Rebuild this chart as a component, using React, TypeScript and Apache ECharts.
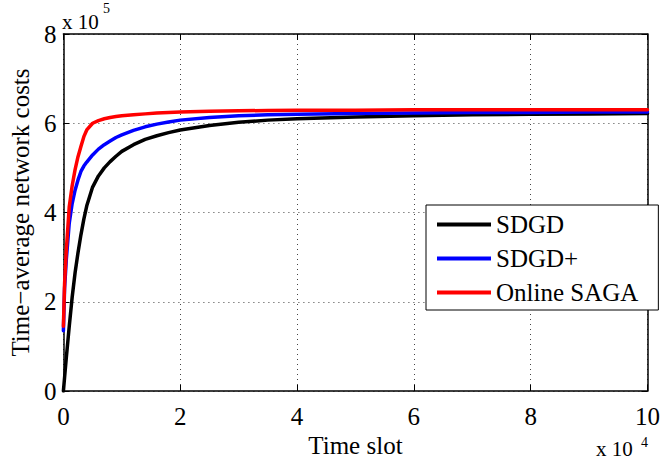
import React, { useEffect, useRef } from "react";
import * as echarts from "echarts";

const xValues = [0, 0.02, 0.05, 0.1, 0.15, 0.2, 0.25, 0.3, 0.35, 0.4, 0.5, 0.6, 0.7, 0.8, 0.9, 1.0, 1.2, 1.4, 1.6, 1.8, 2, 2.5, 3, 3.5, 4, 5, 6, 7, 8, 9, 10];
const sdgd = [0, 0.3, 0.75, 1.45, 2.1, 2.65, 3.1, 3.5, 3.85, 4.15, 4.57, 4.82, 5.0, 5.14, 5.26, 5.37, 5.52, 5.64, 5.72, 5.79, 5.85, 5.95, 6.02, 6.07, 6.1, 6.14, 6.17, 6.19, 6.2, 6.21, 6.22];
const sdgdPlus = [1.35, 2.3, 2.95, 3.76, 4.2, 4.5, 4.73, 4.92, 5.04, 5.13, 5.29, 5.42, 5.52, 5.6, 5.68, 5.74, 5.84, 5.92, 5.98, 6.03, 6.07, 6.13, 6.17, 6.19, 6.2, 6.22, 6.23, 6.24, 6.24, 6.25, 6.25];
const onlineSaga = [1.45, 2.4, 3.16, 4.13, 4.6, 4.96, 5.25, 5.48, 5.7, 5.85, 6.0, 6.06, 6.1, 6.13, 6.15, 6.17, 6.19, 6.21, 6.23, 6.24, 6.25, 6.27, 6.28, 6.285, 6.29, 6.29, 6.3, 6.3, 6.3, 6.3, 6.3];
const seriesNames = ["SDGD", "SDGD+", "Online SAGA"];
const seriesColors = ["#000000", "#0000ff", "#ff0000"];
const xTicks = { min: 0, max: 10, interval: 2 };
const yTicks = { min: 0, max: 8, interval: 2 };

const FONT = "Times New Roman, Liberation Serif, serif";

export default function App() {
  const ref = useRef<HTMLDivElement>(null);
  useEffect(() => {
    if (!ref.current) return;
    const chart = echarts.init(ref.current, null, { renderer: "svg" });
    const allData = [sdgd, sdgdPlus, onlineSaga];
    const axisBase = {
      type: "value" as const,
      axisLine: { show: true, onZero: false, lineStyle: { color: "#000", width: 1.5 } },
      axisTick: { show: true, inside: true, length: 6, lineStyle: { color: "#000", width: 1 } },
    };
    chart.setOption({
      animation: false,
      backgroundColor: "#fff",
      textStyle: { fontFamily: FONT },
      grid: { left: 62, right: 13, top: 34, bottom: 75, containLabel: false },
      legend: {
        orient: "vertical",
        left: 426,
        top: 205,
        data: seriesNames,
        icon: "rect",
        itemWidth: 54,
        itemHeight: 4,
        itemGap: 9,
        padding: [7, 20, 5, 11],
        backgroundColor: "#fff",
        borderColor: "#000",
        borderWidth: 1,
        borderRadius: 0,
        textStyle: { fontFamily: FONT, fontSize: 25, color: "#000", lineHeight: 24 },
      },
      xAxis: [
        {
          ...axisBase,
          ...xTicks,
          position: "bottom",
          name: "Time slot",
          nameLocation: "middle",
          nameGap: 30,
          nameTextStyle: { fontFamily: FONT, fontSize: 25, color: "#000" },
          axisLabel: { fontFamily: FONT, fontSize: 25, color: "#000", margin: 13, lineHeight: 24 },
          splitLine: { show: true, lineStyle: { color: "#444", type: [1, 4], width: 1 } },
        },
        {
          ...axisBase,
          ...xTicks,
          position: "top",
          axisLabel: { show: false },
          splitLine: { show: false },
        },
      ],
      yAxis: [
        {
          ...axisBase,
          ...yTicks,
          position: "left",
          name: "Time\u2212average network costs",
          nameLocation: "middle",
          nameGap: 29,
          nameTextStyle: { fontFamily: FONT, fontSize: 25, color: "#000" },
          axisLabel: { fontFamily: FONT, fontSize: 25, color: "#000", margin: 7 },
          splitLine: { show: true, lineStyle: { color: "#444", type: [1, 4], width: 1 } },
        },
        {
          ...axisBase,
          ...yTicks,
          position: "right",
          axisLabel: { show: false },
          splitLine: { show: false },
        },
      ],
      graphic: [
        { type: "text", left: 62, top: 11, style: { text: "x 10", fontFamily: FONT, fontSize: 21, fill: "#000" } },
        { type: "text", left: 103, top: 1, style: { text: "5", fontFamily: FONT, fontSize: 14, fill: "#000" } },
        { type: "text", left: 596, top: 438, style: { text: "x 10", fontFamily: FONT, fontSize: 21, fill: "#000" } },
        { type: "text", left: 641, top: 435, style: { text: "4", fontFamily: FONT, fontSize: 14, fill: "#000" } },
      ],
      series: seriesNames.map((name, i) => ({
        name,
        type: "line",
        xAxisIndex: 0,
        yAxisIndex: 0,
        data: xValues.map((x, j) => [x, allData[i][j]]),
        showSymbol: false,
        smooth: false,
        lineStyle: { color: seriesColors[i], width: 3.5, join: "round", cap: "round" },
        itemStyle: { color: seriesColors[i] },
        z: 2 + i,
      })),
    });
    return () => chart.dispose();
  }, []);
  return <div ref={ref} style={{ width: 663, height: 466, position: "absolute", left: 0, top: 0 }} />;
}
